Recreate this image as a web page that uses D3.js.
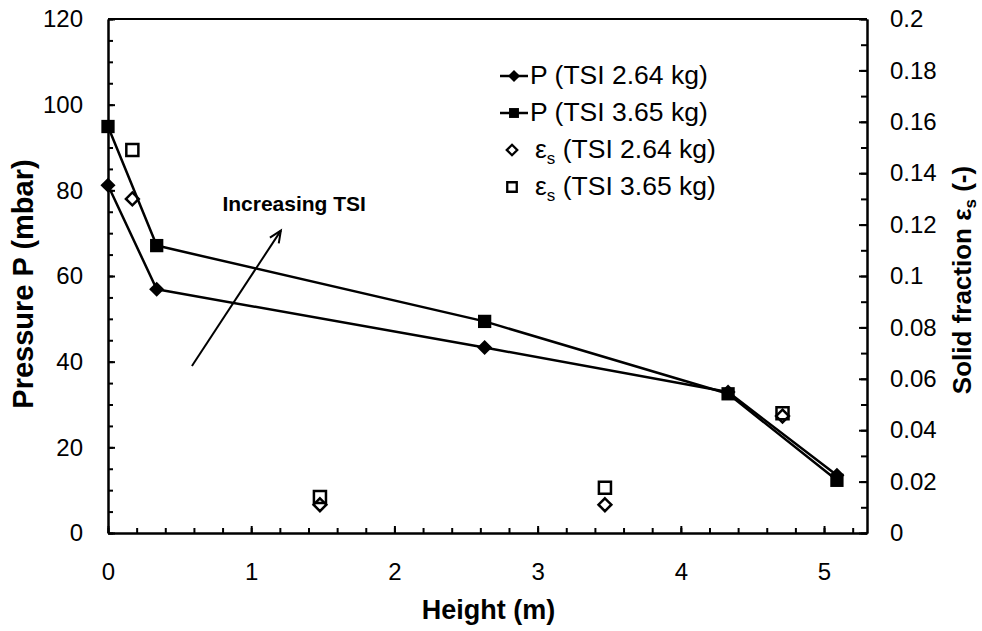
<!DOCTYPE html>
<html>
<head>
<meta charset="utf-8">
<script src="https://cdn.jsdelivr.net/npm/d3@7/dist/d3.min.js"></script>
<style>
  html, body { margin: 0; padding: 0; background: #fff; }
  svg { display: block; font-family: "Liberation Sans", Arial, sans-serif; }
</style>
</head>
<body>
<svg id="chart" width="982" height="631"></svg>
<script>
// Pressure profile along the riser height (left axis, mbar)
const pHeights = [0, 0.34, 2.63, 4.33, 5.09];
const pTsi264 = [81.2, 56.9, 43.3, 32.9, 13.5];
const pTsi365 = [94.9, 67.1, 49.4, 32.5, 12.3];

// Solid fraction measured at the sampling heights (right axis, -)
const epsHeights = [0.17, 1.48, 3.47, 4.71];
const epsTsi264 = [0.130, 0.011, 0.011, 0.0455];
const epsTsi365 = [0.149, 0.014, 0.0176, 0.0466];

// Axis ticks
const xMajor = [0, 1, 2, 3, 4, 5];
const yLeftMajor = [0, 20, 40, 60, 80, 100, 120];
const yRightMajor = [0, 0.02, 0.04, 0.06, 0.08, 0.1, 0.12, 0.14, 0.16, 0.18, 0.2];

// Legend entries
const legendLabels = ["P (TSI 2.64 kg)", "P (TSI 3.65 kg)", "(TSI 2.64 kg)", "(TSI 3.65 kg)"];

// "Increasing TSI" arrow, in data units
const arrowFrom = [0.586, 39.0];
const arrowTo = [1.207, 70.6];
const arrowText = "Increasing TSI";
const arrowTextAt = [1.30, 75.1];

const svg = d3.select("#chart");
const margin = { left: 108, right: 115, top: 19, bottom: 98 };
const W = 982, H = 631;

const x = d3.scaleLinear().domain([0, 5.3]).range([margin.left, W - margin.right]);
const yL = d3.scaleLinear().domain([0, 120]).range([H - margin.bottom, margin.top]);
const yR = d3.scaleLinear().domain([0, 0.2]).range([H - margin.bottom, margin.top]);

const xMinor = d3.range(0, 5.31, 0.2).map(v => +v.toFixed(2));
const yLeftMinor = d3.range(0, 121, 5);
const yRightMinor = d3.range(0, 0.2001, 0.01).map(v => +v.toFixed(3));

const tickFont = 24;

// Top border of the plot frame
svg.append("line")
  .attr("x1", x(0)).attr("x2", x(5.3))
  .attr("y1", yL(120)).attr("y2", yL(120))
  .attr("stroke", "#000").attr("stroke-width", 2);

function styleAxis(g) {
  g.select(".domain").attr("stroke", "#000").attr("stroke-width", 2);
  g.selectAll(".tick line").attr("stroke", "#000").attr("stroke-width", 2);
  g.selectAll(".tick text").attr("fill", "#000")
    .style("font-size", tickFont + "px")
    .style("font-family", "'Liberation Sans', Arial, sans-serif");
}

// Bottom axis
svg.append("g").attr("transform", `translate(0,${yL(0)})`)
  .call(d3.axisBottom(x).tickValues(xMinor).tickSize(-5).tickFormat("").tickSizeOuter(0))
  .call(styleAxis);
svg.append("g").attr("transform", `translate(0,${yL(0)})`)
  .call(d3.axisBottom(x).tickValues(xMajor).tickSize(-7).tickPadding(30).tickFormat(d3.format("d")).tickSizeOuter(0))
  .call(styleAxis);

// Left axis
svg.append("g").attr("transform", `translate(${x(0)},0)`)
  .call(d3.axisLeft(yL).tickValues(yLeftMinor).tickSize(-5).tickFormat("").tickSizeOuter(0))
  .call(styleAxis);
svg.append("g").attr("transform", `translate(${x(0)},0)`)
  .call(d3.axisLeft(yL).tickValues(yLeftMajor).tickSize(-7).tickPadding(25).tickFormat(d3.format("d")).tickSizeOuter(0))
  .call(styleAxis);

// Right axis
svg.append("g").attr("transform", `translate(${x(5.3)},0)`)
  .call(d3.axisRight(yR).tickValues(yRightMinor).tickSize(-6).tickFormat("").tickSizeOuter(0))
  .call(styleAxis);
svg.append("g").attr("transform", `translate(${x(5.3)},0)`)
  .call(d3.axisRight(yR).tickValues(yRightMajor).tickSize(-8).tickPadding(23)
    .tickFormat(d => d === 0 ? "0" : String(+d.toFixed(2))).tickSizeOuter(0))
  .call(styleAxis);

// Axis titles
svg.append("text")
  .attr("x", (x(0) + x(5.3)) / 2 + 1).attr("y", 619)
  .attr("text-anchor", "middle")
  .style("font-size", "27px").style("font-weight", "bold")
  .text("Height (m)");

svg.append("text")
  .attr("transform", `translate(33,284) rotate(-90)`)
  .attr("text-anchor", "middle")
  .style("font-size", "29px").style("font-weight", "bold")
  .text("Pressure P (mbar)");

const rTitle = svg.append("text")
  .attr("transform", `translate(971,280) rotate(-90)`)
  .attr("text-anchor", "middle")
  .style("font-size", "26px").style("font-weight", "bold");
rTitle.append("tspan").text("Solid fraction ε");
rTitle.append("tspan").attr("dy", 5).style("font-size", "17px").text("s");
rTitle.append("tspan").attr("dy", -5).text(" (-)");

// Marker shapes
const diamond = d3.symbol().type(d3.symbolDiamond2);
const square = d3.symbol().type(d3.symbolSquare2);

// Pressure lines with filled markers
const line = d3.line().x(d => x(d[0])).y(d => yL(d[1]));
const pSeries = [
  { vals: pTsi264, shape: "diamond" },
  { vals: pTsi365, shape: "square" }
];
pSeries.forEach(s => {
  const pts = pHeights.map((h, i) => [h, s.vals[i]]);
  svg.append("path").datum(pts)
    .attr("d", line)
    .attr("fill", "none").attr("stroke", "#000").attr("stroke-width", 2.5)
    .attr("stroke-linejoin", "round");
  svg.selectAll(null).data(pts).enter().append("path")
    .attr("transform", d => `translate(${x(d[0])},${yL(d[1])})`)
    .attr("d", s.shape === "diamond" ? diamond.size(145)() : square.size(225)())
    .attr("fill", "#000");
});

// Solid fraction: open markers on the right axis
const epsSeries = [
  { vals: epsTsi264, shape: "diamond" },
  { vals: epsTsi365, shape: "square" }
];
epsSeries.forEach(s => {
  const pts = epsHeights.map((h, i) => [h, s.vals[i]]);
  svg.selectAll(null).data(pts).enter().append("path")
    .attr("transform", d => `translate(${x(d[0])},${yR(d[1])})`)
    .attr("d", s.shape === "diamond" ? diamond.size(105)() : square.size(185)())
    .attr("fill", "none").attr("stroke", "#000").attr("stroke-width", 2.5);
});

// Annotation arrow
const ax1 = x(arrowFrom[0]), ay1 = yL(arrowFrom[1]);
const ax2 = x(arrowTo[0]), ay2 = yL(arrowTo[1]);
svg.append("line")
  .attr("x1", ax1).attr("y1", ay1).attr("x2", ax2).attr("y2", ay2)
  .attr("stroke", "#000").attr("stroke-width", 2);
const ang = Math.atan2(ay2 - ay1, ax2 - ax1);
const headLen = 13, headSpread = 0.42;
svg.append("path")
  .attr("d", `M${ax2 - headLen * Math.cos(ang - headSpread)},${ay2 - headLen * Math.sin(ang - headSpread)}
              L${ax2},${ay2}
              L${ax2 - headLen * Math.cos(ang + headSpread)},${ay2 - headLen * Math.sin(ang + headSpread)}`)
  .attr("fill", "none").attr("stroke", "#000").attr("stroke-width", 2)
  .attr("stroke-linejoin", "miter");
svg.append("text")
  .attr("x", x(arrowTextAt[0])).attr("y", yL(arrowTextAt[1]))
  .attr("text-anchor", "middle")
  .style("font-size", "21px").style("font-weight", "bold")
  .text(arrowText);

// Legend
const legend = svg.append("g");
const legRows = [84, 121, 158, 195];
const legFont = 26.5;
// rows 1-2: line with filled marker
[0, 1].forEach(i => {
  const cy = legRows[i] - 8;
  legend.append("line").attr("x1", 500).attr("x2", 528)
    .attr("y1", cy).attr("y2", cy).attr("stroke", "#000").attr("stroke-width", 2.5);
  legend.append("path").attr("transform", `translate(514,${cy})`)
    .attr("d", i === 0 ? diamond.size(95)() : square.size(125)())
    .attr("fill", "#000");
  legend.append("text").attr("x", 530).attr("y", legRows[i])
    .style("font-size", legFont + "px").text(legendLabels[i]);
});
// rows 3-4: open marker only
[2, 3].forEach(i => {
  const cy = legRows[i] - 8;
  legend.append("path").attr("transform", `translate(512,${cy})`)
    .attr("d", i === 2 ? diamond.size(70)() : square.size(115)())
    .attr("fill", "none").attr("stroke", "#000").attr("stroke-width", 2.3);
  const t = legend.append("text").attr("x", 535).attr("y", legRows[i])
    .style("font-size", legFont + "px");
  t.append("tspan").text("ε");
  t.append("tspan").attr("dy", 6).style("font-size", "17px").text("s");
  t.append("tspan").attr("dy", -6).text(" " + legendLabels[i]);
});
</script>
</body>
</html>
